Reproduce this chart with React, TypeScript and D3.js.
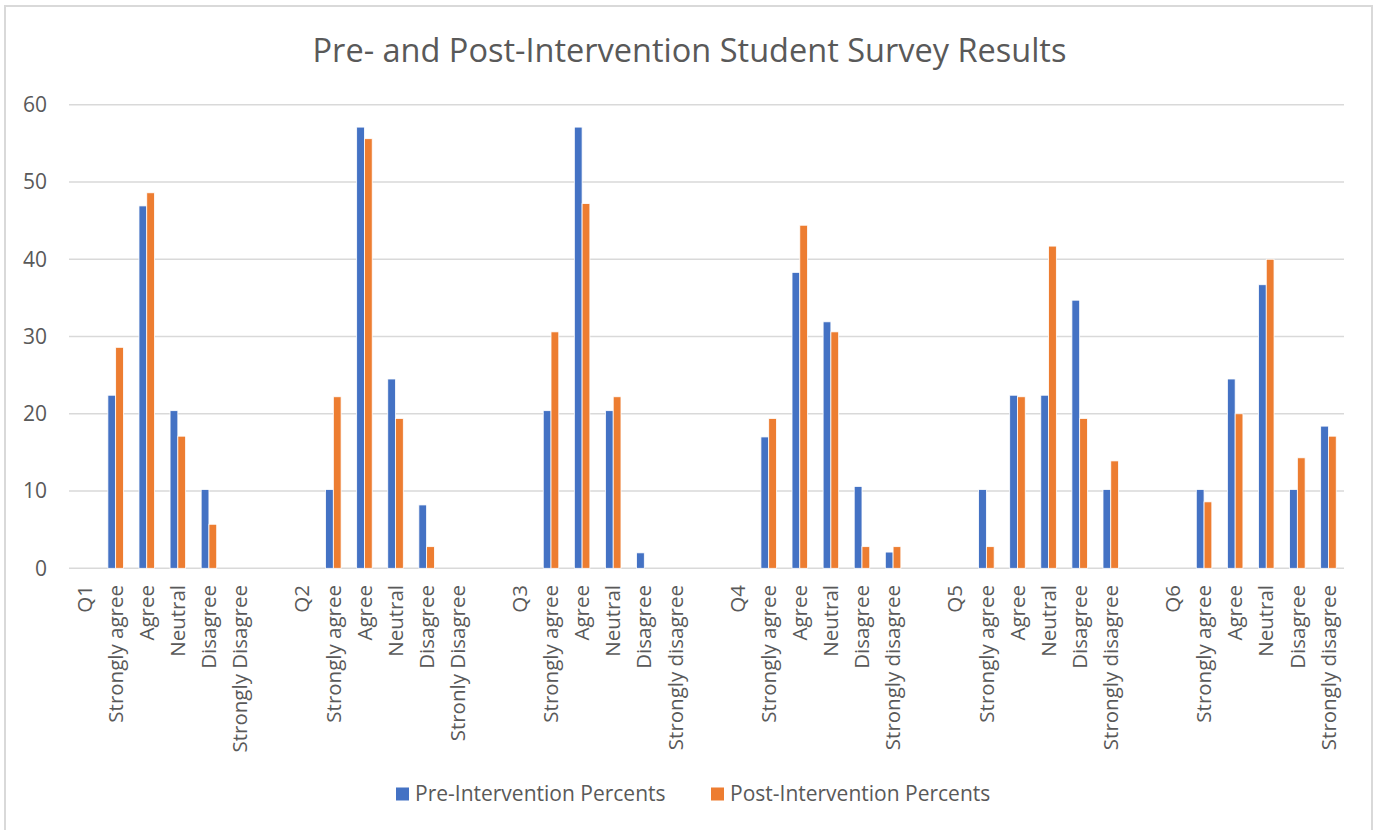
import React from "react";
import * as d3 from "d3";

// Survey questions and the response options listed under each one
const questions = ["Q1", "Q2", "Q3", "Q4", "Q5", "Q6"];
const responsesByQuestion: string[][] = [
  ["Strongly agree", "Agree", "Neutral", "Disagree", "Strongly Disagree"],
  ["Strongly agree", "Agree", "Neutral", "Disagree", "Stronly Disagree"],
  ["Strongly agree", "Agree", "Neutral", "Disagree", "Strongly disagree"],
  ["Strongly agree", "Agree", "Neutral", "Disagree", "Strongly disagree"],
  ["Strongly agree", "Agree", "Neutral", "Disagree", "Strongly disagree"],
  ["Strongly agree", "Agree", "Neutral", "Disagree", "Strongly disagree"],
];

// Percent of students giving each response (null = no bar)
const prePercents: (number | null)[][] = [
  [22.4, 46.9, 20.4, 10.2, null],
  [10.2, 57.1, 24.5, 8.2, null],
  [20.4, 57.1, 20.4, 2.0, null],
  [17.0, 38.3, 31.9, 10.6, 2.1],
  [10.2, 22.4, 22.4, 34.7, 10.2],
  [10.2, 24.5, 36.7, 10.2, 18.4],
];
const postPercents: (number | null)[][] = [
  [28.6, 48.6, 17.1, 5.7, null],
  [22.2, 55.6, 19.4, 2.8, null],
  [30.6, 47.2, 22.2, null, null],
  [19.4, 44.4, 30.6, 2.8, 2.8],
  [2.8, 22.2, 41.7, 19.4, 13.9],
  [8.6, 20.0, 40.0, 14.3, 17.1],
];

const seriesNames = ["Pre-Intervention Percents", "Post-Intervention Percents"];
const seriesColors = ["#4472C4", "#ED7D31"];
const yTicks = [0, 10, 20, 30, 40, 50, 60];
const title = "Pre- and Post-Intervention Student Survey Results";

type Cat = { key: string; label: string; pre: number | null; post: number | null };

// Each question contributes its own header slot, its five responses,
// and a blank spacer slot (except after the last question).
const categories: Cat[] = [];
questions.forEach((q, qi) => {
  categories.push({ key: `${qi}-h`, label: q, pre: null, post: null });
  responsesByQuestion[qi].forEach((r, ri) => {
    categories.push({
      key: `${qi}-${ri}`,
      label: r,
      pre: prePercents[qi][ri],
      post: postPercents[qi][ri],
    });
  });
  if (qi < questions.length - 1) {
    categories.push({ key: `${qi}-s`, label: "", pre: null, post: null });
  }
});

const W = 1379;
const H = 830;
const plot = { left: 69, right: 1344, top: 104.7, bottom: 568.3 };
const textColor = "#595959";
const gridColor = "#d9d9d9";
const font = "'Open Sans', 'Noto Sans', sans-serif";

export default function App() {
  const x = d3
    .scaleBand<string>()
    .domain(categories.map((c) => c.key))
    .range([plot.left, plot.right])
    .padding(0);

  const xSub = d3
    .scaleBand<string>()
    .domain(["pre", "post"])
    .range([0, x.bandwidth()])
    .paddingInner(0)
    .paddingOuter(1);

  const y = d3.scaleLinear().domain([0, 60]).range([plot.bottom, plot.top]);

  const bars: { k: string; x: number; y: number; w: number; h: number; fill: string }[] = [];
  categories.forEach((c) => {
    (["pre", "post"] as const).forEach((s, si) => {
      const v = c[s];
      if (v == null) return;
      bars.push({
        k: `${c.key}-${s}`,
        x: (x(c.key) ?? 0) + (xSub(s) ?? 0),
        y: y(v),
        w: xSub.bandwidth(),
        h: y(0) - y(v),
        fill: seriesColors[si],
      });
    });
  });

  const legendY = 794;
  const legendItems = [
    { name: seriesNames[0], color: seriesColors[0], x: 396 },
    { name: seriesNames[1], color: seriesColors[1], x: 711 },
  ];

  return (
    <div style={{ position: "absolute", left: 0, top: 0 }}>
      <svg width={W} height={H} style={{ display: "block", background: "#fff" }}>
        <rect x={5} y={6} width={1367} height={H} fill="#fff" stroke={gridColor} strokeWidth={2} />

        <text
          x={689.5}
          y={61.5}
          textAnchor="middle"
          fontFamily={font}
          fontSize={32.5}
          fill={textColor}
        >
          {title}
        </text>

        {/* horizontal gridlines and y tick labels */}
        {yTicks.map((t) => (
          <g key={t}>
            <line
              x1={plot.left}
              x2={plot.right}
              y1={y(t)}
              y2={y(t)}
              stroke={gridColor}
              strokeWidth={1.4}
            />
            <text
              x={47}
              y={y(t)}
              dy="0.35em"
              textAnchor="end"
              fontFamily={font}
              fontSize={21}
              fill={textColor}
            >
              {t}
            </text>
          </g>
        ))}

        {bars.map((b) => (
          <rect
            key={b.k}
            x={b.x}
            y={b.y}
            width={b.w}
            height={b.h}
            fill={b.fill}
            stroke="#fff"
            strokeWidth={0.8}
          />
        ))}

        {/* rotated category labels */}
        {categories.map((c) =>
          c.label ? (
            <text
              key={`l-${c.key}`}
              transform={`translate(${(x(c.key) ?? 0) + x.bandwidth() / 2},585) rotate(-90)`}
              textAnchor="end"
              dy="0.35em"
              fontFamily={font}
              fontSize={20.5}
              fill={textColor}
            >
              {c.label}
            </text>
          ) : null
        )}

        {/* legend */}
        {legendItems.map((l) => (
          <g key={l.name}>
            <rect x={l.x} y={legendY - 6.5} width={13} height={13} fill={l.color} />
            <text
              x={l.x + 19}
              y={legendY}
              dy="0.35em"
              fontFamily={font}
              fontSize={21}
              fill={textColor}
            >
              {l.name}
            </text>
          </g>
        ))}
      </svg>
    </div>
  );
}
